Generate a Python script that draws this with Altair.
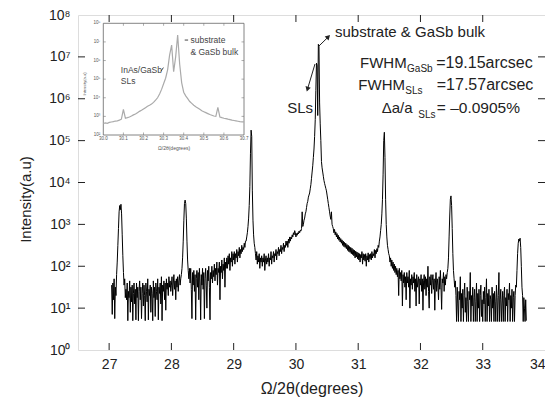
import altair as alt
import pandas as pd

# ---------------- data ----------------
# main scan: log10(intensity) sampled every 0.01 degree
scan_step = 0.01

logI_27 = [  # 27.04 .. 27.99
    1.55, 0.85, 1.6, 1.2, 1.7, 0.75, 1.5, 1.3, 1.8,
    2.1, 2.5, 2.9, 3.3, 3.45, 3.35, 3.48, 3.25, 2.75, 2.25, 1.85, 1.55, 1.7, 1.25,
    1.45, 1.2, 1.6, 0.7, 1.4, 1.25, 1.65, 0.9, 1.5, 1.15,
    1.55, 0.7, 1.35, 1.6, 1.1, 1.45, 0.72, 1.6, 1.25, 1.5,
    0.7, 1.4, 1.65, 1.2, 1.5, 0.75, 1.35, 1.6, 1.05, 1.55,
    1.3, 0.7, 1.6, 1.4, 1.15, 1.7, 0.72, 1.45, 1.3, 1.55,
    0.9, 1.5, 1.35, 0.7, 1.65, 1.25, 1.5, 0.8, 1.6, 1.4,
    1.2, 1.7, 0.72, 1.5, 1.35, 1.6, 1.1, 1.75, 0.7, 1.55,
    1.4, 1.65, 1.2, 1.6, 0.95, 1.7, 1.45, 1.6, 1.3, 1.75, 1.5, 1.65, 1.4,
]
logI_28 = [  # 28.00 .. 28.99
    1.55, 1.75, 1.3, 1.6, 1.8, 1.45, 1.65, 1.2, 1.7, 1.5, 1.75, 1.4, 1.65, 1.8, 1.55, 1.7,
    1.8, 1.95, 2.2, 2.6, 3.1, 3.5, 3.58, 3.5, 3.15, 2.6, 2.15, 1.9, 1.7, 1.95,
    1.6, 1.95, 1.45, 0.75, 1.85, 1.55, 1.9, 1.4, 1.8, 0.72,
    1.7, 1.9, 1.5, 1.85, 1.2, 1.95, 1.6, 0.72, 1.8, 1.55,
    1.95, 1.45, 1.85, 0.75, 1.7, 1.95, 1.55, 1.0, 1.9, 1.65,
    2.0, 1.5, 0.72, 1.85, 1.7, 2.0, 1.6, 1.9, 1.75, 2.05,
    1.65, 1.95, 1.8, 2.1, 1.55, 1.95, 1.85, 2.1, 1.2, 2.0,
    1.85, 2.15, 1.7, 2.05, 1.9, 2.2, 1.5, 2.1, 1.95, 2.2,
    1.95, 2.25, 2.05, 2.3, 1.9, 2.2, 2.1, 2.35, 2.0, 2.3,
]
logI_29 = [  # 29.00 .. 29.99
    2.15, 2.35, 2.05, 2.3, 2.2, 2.4, 2.1, 2.35, 2.25, 2.45,
    2.2, 2.4, 2.3, 2.5, 2.35, 2.45, 2.4, 2.55, 2.45, 2.6,
    2.6, 2.7, 2.8, 2.95, 3.15, 3.45, 3.9, 4.7, 5.25, 5.1, 3.8, 3.1, 2.75, 2.55, 2.45,
    2.3, 2.15, 2.35, 2.05, 2.25, 2.1, 2.3, 1.95, 2.2, 2.1,
    2.25, 2.0, 2.2, 2.1, 2.3, 1.9, 2.15, 2.25, 2.05, 2.2,
    2.1, 2.3, 2.0, 2.2, 2.15, 2.35, 2.05, 2.25, 2.2, 2.35,
    2.1, 2.3, 2.25, 2.4, 2.15, 2.35, 2.3, 2.45, 2.25, 2.4,
    2.35, 2.5, 2.3, 2.45, 2.4, 2.55, 2.35, 2.5, 2.45, 2.6,
    2.5, 2.6, 2.45, 2.65, 2.55, 2.7, 2.6, 2.7, 2.65, 2.75, 2.7, 2.8, 2.75, 2.85, 2.8,
]
logI_30 = [  # 30.00 .. 30.99
    2.7, 2.78, 2.74, 2.8, 2.77, 2.84, 2.8, 2.86, 2.84, 2.9,
    3.3, 2.95, 3.0, 3.1, 3.15, 3.25, 3.3, 3.4, 3.5, 3.55,
    3.65, 3.7, 3.75, 3.85, 3.95, 4.1, 4.25, 4.4, 4.6, 4.8,
    5.1, 5.5, 6.2, 6.85, 6.8, 5.6, 7.3, 7.25, 5.9, 5.4,
    5.0, 4.5, 4.35, 4.25, 4.15, 4.05, 3.98, 3.92, 3.86, 3.8,
    3.7, 3.6, 3.5, 3.4, 3.3, 3.2, 3.12, 3.3, 3.0, 2.95,
    2.9, 2.8, 2.88, 2.75, 2.82, 2.7, 2.78, 2.65, 2.74, 2.62,
    2.7, 2.58, 2.66, 2.55, 2.63, 2.5, 2.6, 2.47, 2.57, 2.45,
    2.55, 2.42, 2.52, 2.38, 2.5, 2.35, 2.47, 2.33, 2.45, 2.3,
    2.43, 2.28, 2.4, 2.25, 2.38, 2.2, 2.36, 2.22, 2.34, 2.18,
]
logI_31 = [  # 31.00 .. 31.99
    2.32, 2.15, 2.3, 2.1, 2.28, 2.2, 2.35, 2.05, 2.3, 2.15,
    2.28, 2.12, 2.3, 2.0, 2.25, 2.15, 2.32, 2.1, 2.28, 2.18,
    2.3, 2.15, 2.35, 2.2, 2.3, 2.25, 2.4, 2.2, 2.38, 2.3,
    2.42, 2.35, 2.5, 2.45, 2.6, 2.7, 2.85, 3.0, 3.25, 3.6,
    4.2, 5.0, 5.2, 4.6, 3.6, 3.0, 2.7, 2.5, 2.4, 2.3,
    2.25, 2.1, 2.2, 2.0, 2.15, 1.95, 2.1, 1.9, 2.05, 1.85,
    2.0, 1.8, 1.95, 1.75, 1.9, 1.3, 1.95, 1.7, 1.85, 1.65,
    1.9, 1.05, 1.8, 1.6, 1.85, 1.5, 1.75, 1.2, 1.85, 1.6,
    1.75, 1.5, 1.9, 1.0, 1.7, 1.55, 1.8, 1.45, 1.75, 1.6,
    1.85, 1.4, 1.7, 1.05, 1.8, 1.5, 1.65, 1.75, 1.1, 1.7,
]
logI_32 = [  # 32.00 .. 32.99
    1.55, 1.8, 1.4, 1.7, 0.95, 1.65, 1.8, 1.45, 1.75, 1.3,
    1.7, 1.5, 2.0, 1.4, 1.0, 1.75, 1.55, 1.8, 1.35, 1.65,
    1.8, 1.45, 1.7, 0.95, 1.6, 1.85, 1.4, 1.7, 1.55, 1.2,
    1.75, 1.45, 1.9, 1.5, 0.97, 1.7, 1.6, 1.85, 1.4, 1.75,
    1.55, 1.8, 1.7,
    1.85, 1.95, 2.2, 2.7, 3.2, 3.6, 3.68, 3.45, 2.9, 2.3, 1.9, 1.7, 1.5, 1.65,
    1.3, 0.68, 1.5, 1.1, 0.68, 1.4, 1.2, 1.75, 0.68, 1.35,
    1.0, 1.45, 0.68, 1.3, 1.6, 0.9, 1.25, 0.68, 1.5, 1.15,
    0.68, 1.4, 1.2, 1.85, 0.68, 1.3, 1.05, 1.5, 0.68, 1.25,
    1.45, 0.68, 1.15, 1.6, 0.68, 1.35, 1.0, 1.45, 0.68, 1.3, 1.55, 0.8, 1.2,
]
logI_33 = [  # 33.00 .. 33.70
    0.68, 1.4, 1.1, 1.5, 0.68, 1.25, 1.7, 0.68, 1.35, 1.05,
    1.45, 0.68, 1.3, 1.2, 0.68, 1.5, 1.0, 1.35, 0.68, 1.4,
    1.15, 0.68, 1.55, 1.25, 0.68, 1.3, 1.85, 0.68, 1.2, 1.45,
    0.68, 1.1, 1.4, 0.68, 1.3, 1.5, 0.68, 1.25, 1.05, 1.45,
    0.68, 1.35, 1.2, 1.6, 0.68, 1.3, 1.0, 1.45, 0.68, 1.25,
    1.4, 0.68, 1.3, 1.55, 1.5, 1.9, 2.3, 2.55, 2.65, 2.6,
    2.67, 2.45, 2.0, 1.5, 1.3, 0.68, 1.25, 1.0, 0.68, 1.2, 0.7,
]
segment_starts = [27.04, 28.00, 29.00, 30.00, 31.00, 32.00, 33.00]
segments = [logI_27, logI_28, logI_29, logI_30, logI_31, logI_32, logI_33]

# inset scan 30.00 .. 30.70, log10(intensity)
inset_start = 30.00
inset_logI = [
    2.62, 2.65, 2.63, 2.68, 2.7, 2.72, 2.75, 2.76, 2.8, 2.85,
    3.37, 2.9, 2.93, 2.97, 3.02, 3.08, 3.13, 3.2, 3.27, 3.33,
    3.4, 3.47, 3.54, 3.6, 3.67, 3.75, 3.87, 4.0, 4.2, 4.45,
    4.75, 5.05, 5.5, 6.3, 6.83, 5.4, 6.2, 7.37, 5.8, 4.8,
    4.3, 4.1, 3.95, 3.8, 3.7, 3.6, 3.52, 3.45, 3.38, 3.3,
    3.25, 3.2, 3.15, 3.1, 3.06, 3.02, 3.0, 3.48, 2.97, 2.93,
    2.9, 2.88, 2.85, 2.83, 2.8, 2.78, 2.76, 2.74, 2.72, 2.71, 2.7,
]

x_ticks = [27, 28, 29, 30, 31, 32, 33, 34]
y_ticks = [1, 10, 100, 1e3, 1e4, 1e5, 1e6, 1e7, 1e8]
inset_x_ticks = [30.0, 30.1, 30.2, 30.3, 30.4, 30.5, 30.6, 30.7]
inset_y_ticks = [1e2, 1e3, 1e4, 1e5, 1e6, 1e7, 1e8]
inset_y_labels = ["10²", "10³", "10⁴", "10⁵", "10⁶", "10⁷", "10⁸"]

# ---------------- tables ----------------
rows = []
for start, vals in zip(segment_starts, segments):
    for i, v in enumerate(vals):
        rows.append({"angle": round(start + i * scan_step, 2), "intensity": 10 ** v})
main_df = pd.DataFrame(rows)

inset_df = pd.DataFrame({
    "angle": [round(inset_start + i * scan_step, 2) for i in range(len(inset_logI))],
    "intensity": [10 ** v for v in inset_logI],
})

FONT = "Liberation Sans"
TXT = "#222"


def X_MAIN():
    return alt.Scale(domain=[26.5, 34], nice=False, zero=False)


def Y_MAIN():
    return alt.Scale(type="log", domain=[1, 1e8], nice=False)


def X_IN():
    return alt.Scale(domain=[30.0, 30.7], range=[25.3, 166], nice=False, zero=False)


def Y_IN():
    return alt.Scale(type="log", domain=[1e2, 1e8], range=[120, 8.3], nice=False)


def mx(f):
    return alt.X(f, scale=X_MAIN(), axis=None)


def my(f):
    return alt.Y(f, scale=Y_MAIN(), axis=None)


def ix(f):
    return alt.X(f, scale=X_IN(), axis=None)


def iy(f):
    return alt.Y(f, scale=Y_IN(), axis=None)


sup = "['⁰','¹','²','³','⁴','⁵','⁶','⁷','⁸']"

line = alt.Chart(main_df).mark_line(color="#000", strokeWidth=1.0, clip=True, strokeJoin="round").encode(
    x=alt.X("angle:Q", scale=X_MAIN(), axis=alt.Axis(
        orient="bottom", values=x_ticks, format="d", title="Ω/2θ(degrees)", domain=False, ticks=False, grid=False,
        labelFont=FONT, labelFontSize=14, labelColor=TXT, labelPadding=7, labelFlush=True,
        titleFont=FONT, titleFontSize=16, titleFontWeight="normal", titleColor=TXT,
        titleY=43, titleBaseline="alphabetic")),
    y=alt.Y("intensity:Q", scale=Y_MAIN(), axis=alt.Axis(
        orient="left", values=y_ticks, labelExpr="'10' + " + sup + "[round(log(datum.value)/LN10)]",
        title="Intensity(a.u)", domain=False, ticks=False, grid=False,
        labelFont=FONT, labelFontSize=14, labelColor=TXT, labelPadding=8,
        titleFont=FONT, titleFontSize=15, titleFontWeight="normal", titleColor=TXT,
        titleX=-48, titleY=184, titleBaseline="alphabetic", titleAngle=270)),
)

xt = pd.DataFrame({"v": x_ticks[:-1]})
yt = pd.DataFrame({"v": y_ticks[1:-1]})
tick_color = "#222"
xt_bottom = alt.Chart(xt).mark_rule(color=tick_color, strokeWidth=1).encode(
    x=mx("v:Q"), y=alt.value(335), y2=alt.value(328))
xt_top = alt.Chart(xt).mark_rule(color=tick_color, strokeWidth=1).encode(
    x=mx("v:Q"), y=alt.value(0), y2=alt.value(7))
yt_left = alt.Chart(yt).mark_rule(color=tick_color, strokeWidth=1).encode(
    y=my("v:Q"), x=alt.value(0), x2=alt.value(7))
yt_right = alt.Chart(yt).mark_rule(color=tick_color, strokeWidth=1).encode(
    y=my("v:Q"), x=alt.value(467), x2=alt.value(460))

# annotations (data coordinates)
ann_left = pd.DataFrame({
    "t": ["substrate & GaSb bulk", "FWHM", "FWHM", "Δa/a", "GaSb", "SLs", "SLs"],
    "x": [30.627, 31.029, 31.002, 31.377, 31.785, 31.755, 31.965],
    "y": [10 ** 7.467, 10 ** 6.741, 10 ** 6.209, 10 ** 5.652, 10 ** 6.632, 10 ** 6.106, 10 ** 5.547],
    "s": [15, 15, 15, 15, 10, 10, 10],
})
ann_right = pd.DataFrame({
    "t": ["=19.15arcsec", "=17.57arcsec", "= –0.0905%", "SLs"],
    "x": [33.802, 33.812, 33.598, 30.274],
    "y": [10 ** 6.741, 10 ** 6.209, 10 ** 5.652, 10 ** 5.652],
    "s": [16, 16, 15.5, 15],
})
t_left = alt.Chart(ann_left).mark_text(align="left", baseline="alphabetic", font=FONT, color=TXT).encode(
    x=mx("x:Q"), y=my("y:Q"), text="t:N", size=alt.Size("s:Q", scale=None, legend=None))
t_right = alt.Chart(ann_right).mark_text(align="right", baseline="alphabetic", font=FONT, color=TXT).encode(
    x=mx("x:Q"), y=my("y:Q"), text="t:N", size=alt.Size("s:Q", scale=None, legend=None))

arrows = pd.DataFrame({
    "x": [30.306, 30.370], "y": [10 ** 6.83, 10 ** 7.26],
    "x2": [30.19, 30.515], "y2": [10 ** 6.25, 10 ** 7.47],
})
heads = pd.DataFrame({"x": [30.185, 30.52], "y": [10 ** 6.23, 10 ** 7.48], "a": [197, 45]})
arrow_lines = alt.Chart(arrows).mark_rule(color="#222", strokeWidth=1).encode(
    x=mx("x:Q"), y=my("y:Q"), x2="x2:Q", y2="y2:Q")
arrow_heads = alt.Chart(heads).mark_point(shape="triangle-up", filled=True, color="#222", size=30, opacity=1).encode(
    x=mx("x:Q"), y=my("y:Q"), angle=alt.Angle("a:Q", scale=None))

# ---------------- inset ----------------
frame = alt.Chart(pd.DataFrame({"x": [30.0], "x2": [30.7], "y": [1e2], "y2": [1e8]})).mark_rect(
    fill="white", stroke="#666", strokeWidth=0.8).encode(
    x=ix("x:Q"), x2="x2:Q", y=iy("y:Q"), y2="y2:Q")
inset_line = alt.Chart(inset_df).mark_line(color="#aaa", strokeWidth=1.2).encode(
    x=ix("angle:Q"), y=iy("intensity:Q"))

ixt = pd.DataFrame({"v": inset_x_ticks[1:-1]})
iyt = pd.DataFrame({"v": inset_y_ticks[1:-1]})
in_tick_layers = [
    alt.Chart(ixt).mark_rule(color="#777", strokeWidth=0.6).encode(x=ix("v:Q"), y=alt.value(120), y2=alt.value(117.5)),
    alt.Chart(ixt).mark_rule(color="#777", strokeWidth=0.6).encode(x=ix("v:Q"), y=alt.value(8.3), y2=alt.value(10.8)),
    alt.Chart(iyt).mark_rule(color="#777", strokeWidth=0.6).encode(y=iy("v:Q"), x=alt.value(25.3), x2=alt.value(27.8)),
    alt.Chart(iyt).mark_rule(color="#777", strokeWidth=0.6).encode(y=iy("v:Q"), x=alt.value(166), x2=alt.value(163.5)),
]
in_xlab = alt.Chart(pd.DataFrame({"v": inset_x_ticks, "t": [f"{v:.1f}" for v in inset_x_ticks], "y": [60] * 8})).mark_text(
    font=FONT, fontSize=4.5, color="#555", baseline="middle").encode(
    x=ix("v:Q"), y=iy("y:Q"), text="t:N")
in_ylab = alt.Chart(pd.DataFrame({"v": inset_y_ticks, "t": inset_y_labels, "x": [29.985] * 7})).mark_text(
    font=FONT, fontSize=4.5, color="#555", baseline="middle", align="right").encode(
    x=ix("x:Q"), y=iy("v:Q"), text="t:N")
in_xtitle = alt.Chart(pd.DataFrame({"x": [30.352], "y": [20.4], "t": ["Ω/2θ(degrees)"]})).mark_text(
    font=FONT, fontSize=5, color="#555", baseline="middle").encode(
    x=ix("x:Q"), y=iy("y:Q"), text="t:N")
in_ytitle = alt.Chart(pd.DataFrame({"x": [29.9085], "y": [10 ** 4.737], "t": ["Intensity(a.u)"]})).mark_text(
    font=FONT, fontSize=4, color="#555", baseline="middle", angle=270).encode(
    x=ix("x:Q"), y=iy("y:Q"), text="t:N")
in_ann = alt.Chart(pd.DataFrame({
    "t": ["substrate", "& GaSb bulk", "InAs/GaSb", "SLs"],
    "x": [30.4335, 30.4335, 30.087, 30.087],
    "y": [10 ** 6.96, 10 ** 6.30, 10 ** 5.31, 10 ** 4.74],
})).mark_text(font=FONT, fontSize=8.5, color="#444", align="left", baseline="alphabetic").encode(
    x=ix("x:Q"), y=iy("y:Q"), text="t:N")
in_arrows = alt.Chart(pd.DataFrame({
    "x": [30.405, 30.287], "x2": [30.422, 30.299],
    "y": [10 ** 7.10, 10 ** 5.43], "y2": [10 ** 7.10, 10 ** 5.62],
})).mark_rule(color="#444", strokeWidth=1).encode(
    x=ix("x:Q"), x2="x2:Q", y=iy("y:Q"), y2="y2:Q")

layers = [line, xt_bottom, xt_top, yt_left, yt_right, t_left, t_right, arrow_lines, arrow_heads,
          frame] + in_tick_layers + [inset_line, in_xlab, in_ylab, in_xtitle, in_ytitle, in_ann, in_arrows]

chart = alt.layer(*layers).resolve_scale(x="independent", y="independent").resolve_axis(
    x="independent", y="independent").properties(
    width=467, height=335,
    padding={"left": 70, "top": 7, "right": 0, "bottom": 48},
    autosize=alt.AutoSizeParams(type="none"),
).configure_view(stroke="#222", strokeWidth=1).configure(background="white")

chart.save("out.html", embed_options={"renderer": "svg", "actions": False})
